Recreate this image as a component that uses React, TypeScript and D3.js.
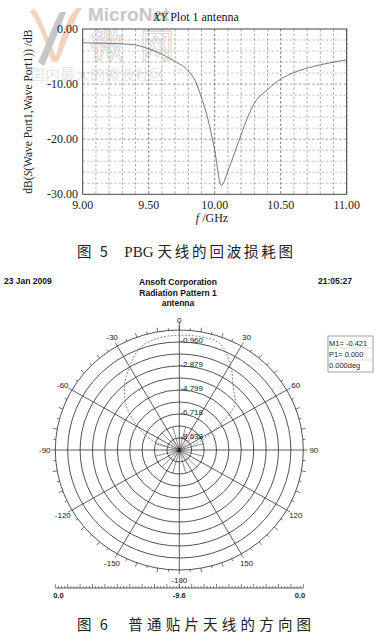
import React from "react";
import * as d3 from "d3";

// ---------- Figure 5 : S11 ----------
const freqs = [9.0, 9.1, 9.2, 9.3, 9.4, 9.5, 9.6, 9.7, 9.8, 9.85, 9.9, 9.95, 10.0, 10.05, 10.1, 10.15, 10.2, 10.25, 10.3, 10.4, 10.5, 10.6, 10.7, 10.8, 10.9, 11.0];
const s11 = [-2.5, -2.55, -2.6, -2.7, -2.9, -3.6, -4.6, -5.9, -7.6, -9.3, -12.5, -16.5, -22.0, -28.4, -25.8, -22.5, -19.2, -16.0, -13.5, -11.0, -9.1, -7.9, -7.1, -6.5, -6.0, -5.6];
const xTickVals = [9.0, 9.5, 10.0, 10.5, 11.0];
const xTickLabels = ["9.00", "9.50", "10.00", "10.50", "11.00"];
const yTickVals = [0, -10, -20, -30];
const yTickLabels = ["0.00", "-10.00", "-20.00", "-30.00"];

// ---------- Figure 6 : radiation pattern ----------
const patAngles = [-90, -80, -70, -60, -50, -40, -30, -20, -10, 0, 10, 20, 30, 40, 50, 60, 70, 80, 90];
const patDb = [-12, -10.5, -7.4, -5.9, -4.3, -3.0, -1.9, -0.85, -0.5, -0.42, -0.4, -0.5, -1.7, -3.1, -4.0, -6.6, -8.3, -10.5, -12];
const ringLabels = ["-0.960", "-2.879", "-4.799", "-6.718", "-8.638"];
const ringLabelVals = [-0.96, -2.879, -4.799, -6.718, -8.638];
const angleLabelVals = [0, 30, 60, 90, 120, 150, 180, -150, -120, -90, -60, -30];
const angleLabels = ["0", "30", "60", "90", "120", "150", "-180", "-150", "-120", "-90", "-60", "-30"];
const markerLines = ["M1= -0.421", "P1= 0.000", "0.000deg"];

const TIMES = "'Liberation Serif', 'DejaVu Serif', serif";
const ARIAL = "'Liberation Sans', Arial, sans-serif";
const CJK = "'Noto Sans CJK SC', sans-serif";

export default function App() {
  // top chart scales
  const x = d3.scaleLinear().domain([9, 11]).range([82.7, 346.7]);
  const y = d3.scaleLinear().domain([0, -30]).range([29, 194.3]);
  const vGrid = d3.range(9.1, 11, 0.1).map((v) => +v.toFixed(2));
  const hGrid = d3.range(-2, -30, -2);
  const line = d3
    .line<number>()
    .x((_, i) => x(freqs[i]))
    .y((d) => y(d))
    .curve(d3.curveMonotoneX);

  // polar
  const cx = 179.3, cy = 450, rx = 124, ry = 120;
  const r = d3.scaleLinear().domain([-9.6, 0]).range([0, 1]).clamp(true);
  const rings = d3.range(0.96, 9.61, 0.96).map((v) => +v.toFixed(2));
  const pol = (deg: number, rr: number) => {
    const a = (deg * Math.PI) / 180;
    return [cx + rr * rx * Math.sin(a), cy - rr * ry * Math.cos(a)];
  };
  const patLine = d3
    .line<number>()
    .x((d, i) => pol(patAngles[i], r(d))[0])
    .y((d, i) => pol(patAngles[i], r(d))[1])
    .curve(d3.curveCatmullRom);
  const spokes = d3.range(0, 360, 30);
  const innerSpokes = d3.range(0, 360, 15).filter((a) => a % 30 !== 0);
  const ticks5 = d3.range(0, 360, 5);

  // bottom scale
  const bs = d3.scaleLinear().domain([0, -9.6]).range([0, 124]);
  const bTicks = d3.range(0, 9.6001, 0.24).map((v) => -v);
  const bY = 588;

  return (
    <svg width={382} height={640} style={{ display: "block", position: "absolute", left: 0, top: 0 }}>
      <rect width={382} height={640} fill="#fff" />

      {/* watermark */}
      <g opacity={0.55}>
        <path d="M34,8 C44,22 48,40 56,56 C60,40 66,20 76,8 L82,8 C72,24 66,44 58,62 L52,62 C46,44 40,26 30,12 Z" fill="#e8b08a" />
        <path d="M38,62 C46,46 52,26 60,12 L66,12 C60,28 52,48 44,66 Z" fill="#9a9a9a" />
        <text x={88} y={21} fontFamily={ARIAL} fontWeight={700} fontSize={19} fill="#9a9a9a">MicroNet</text>
        <text x={90} y={58} fontFamily={CJK} fontSize={34} fill="none" stroke="#a8a8a8" strokeWidth={0.8}>微</text>
        <text x={140} y={58} fontFamily={CJK} fontSize={34} fill="none" stroke="#a8a8a8" strokeWidth={0.8}>网</text>
        <text x={30} y={80} fontFamily={CJK} fontSize={15} fill="#d0d0d0">国内最大的微波社区</text>
      </g>

      {/* ===== Figure 5 ===== */}
      <text x={196} y={21} textAnchor="middle" fontFamily={TIMES} fontSize={12} fill="#111">
        <tspan fontStyle="italic">XY</tspan> Plot 1 antenna
      </text>
      {vGrid.map((v) => (
        <line key={"vg" + v} x1={x(v)} x2={x(v)} y1={y(0)} y2={y(-30)} stroke={Math.abs((v * 10) % 5) < 0.01 ? "#555" : "#999"} strokeWidth={0.8} strokeDasharray="2.5,2" />
      ))}
      {hGrid.map((v) => (
        <line key={"hg" + v} x1={x(9)} x2={x(11)} y1={y(v)} y2={y(v)} stroke={v % 10 === 0 ? "#777" : "#aaa"} strokeWidth={0.7} strokeDasharray="2.5,2" />
      ))}
      <rect x={x(9)} y={y(0)} width={x(11) - x(9)} height={y(-30) - y(0)} fill="none" stroke="#444" strokeWidth={1} />
      <path d={line(s11) || ""} fill="none" stroke="#555" strokeWidth={0.8} />
      {xTickVals.map((v, i) => (
        <text key={"xt" + i} x={x(v)} y={209} textAnchor="middle" fontFamily={TIMES} fontSize={12} fill="#222">{xTickLabels[i]}</text>
      ))}
      {yTickVals.map((v, i) => (
        <text key={"yt" + i} x={78} y={y(v) + 4} textAnchor="end" fontFamily={TIMES} fontSize={12} fill="#222">{yTickLabels[i]}</text>
      ))}
      <text x={212} y={222} textAnchor="middle" fontFamily={TIMES} fontSize={12} fill="#222">
        <tspan fontStyle="italic">f</tspan> /GHz
      </text>
      <text transform={`translate(32,${y(-15)}) rotate(-90)`} textAnchor="middle" fontFamily={TIMES} fontSize={11.5} fill="#222">
        dB(<tspan fontStyle="italic">S</tspan>(Wave Port1,Wave Port1)) /dB
      </text>
      <text x={77} y={257} fontFamily={CJK} fontSize={14.5} fill="#222" style={{ whiteSpace: "pre" }}>
        <tspan letterSpacing={2.5}>{"图 5"}</tspan>
        <tspan dx={14} fontFamily={TIMES} fontSize={15}>PBG</tspan>
        <tspan dx={4} letterSpacing={2.8}>{"天线的回波损耗图"}</tspan>
      </text>

      {/* ===== Figure 6 ===== */}
      <text x={4} y={284} fontFamily={ARIAL} fontWeight={700} fontSize={8.5} fill="#111">23 Jan 2009</text>
      <text x={318} y={284} fontFamily={ARIAL} fontWeight={700} fontSize={8.5} fill="#111">21:05:27</text>
      <text x={178} y={285} textAnchor="middle" fontFamily={ARIAL} fontWeight={700} fontSize={8.5} fill="#111">Ansoft Corporation</text>
      <text x={178} y={295.5} textAnchor="middle" fontFamily={ARIAL} fontWeight={700} fontSize={8.5} fill="#111">Radiation Pattern 1</text>
      <text x={178} y={306} textAnchor="middle" fontFamily={ARIAL} fontWeight={700} fontSize={8.5} fill="#111">antenna</text>

      {/* rings */}
      {rings.map((d) => (
        <ellipse key={"ring" + d} cx={cx} cy={cy} rx={r(-9.6 + d) * rx} ry={r(-9.6 + d) * ry} fill="none" stroke="#333" strokeWidth={0.85} />
      ))}
      {spokes.map((a) => {
        const [x2, y2] = pol(a, 1);
        return <line key={"sp" + a} x1={cx} y1={cy} x2={x2} y2={y2} stroke="#333" strokeWidth={0.8} />;
      })}
      {innerSpokes.map((a) => {
        const [x2, y2] = pol(a, 0.2);
        return <line key={"isp" + a} x1={cx} y1={cy} x2={x2} y2={y2} stroke="#444" strokeWidth={0.6} />;
      })}
      {ticks5.map((a) => {
        const [x1, y1] = pol(a, 1);
        const [x2, y2] = pol(a, a % 10 === 0 ? 1.035 : 1.02);
        return <line key={"tk" + a} x1={x1} y1={y1} x2={x2} y2={y2} stroke="#333" strokeWidth={0.7} />;
      })}
      <circle cx={cx} cy={cy} r={2} fill="#111" />
      <line x1={cx} y1={cy - ry} x2={cx} y2={cy - ry - 8} stroke="#333" strokeWidth={0.8} />

      {angleLabelVals.map((a, i) => {
        const [lx, ly] = pol(a, 1.085);
        return (
          <text key={"al" + i} x={lx} y={ly + 3} textAnchor="middle" fontFamily={ARIAL} fontSize={8} fill="#222">{angleLabels[i]}</text>
        );
      })}
      {ringLabelVals.map((v, i) => (
        <text key={"rl" + i} x={cx + 1} y={cy - r(v) * ry + 1} fontFamily={ARIAL} fontSize={8} fill="#222">{ringLabels[i]}</text>
      ))}

      <path d={patLine(patDb) || ""} fill="none" stroke="#777" strokeWidth={0.9} strokeDasharray="2,1.5" />

      {/* marker box */}
      <rect x={328} y={336} width={45} height={36} fill="#fff" stroke="#777" strokeWidth={0.7} />
      <line x1={328} x2={373} y1={348} y2={348} stroke="#bbb" strokeWidth={0.5} />
      <line x1={328} x2={373} y1={360} y2={360} stroke="#bbb" strokeWidth={0.5} />
      {markerLines.map((t, i) => (
        <text key={"mk" + i} x={329} y={346 + i * 11} fontFamily={ARIAL} fontSize={7.5} fill="#222">{t}</text>
      ))}

      {/* bottom scale */}
      <line x1={cx - bs(-9.6)} x2={cx + bs(-9.6)} y1={bY} y2={bY} stroke="#333" strokeWidth={0.8} />
      {bTicks.map((v, i) => {
        const major = i % 4 === 0;
        return (
          <g key={"bt" + i}>
            <line x1={cx - bs(v)} x2={cx - bs(v)} y1={bY} y2={bY - (major ? 4 : 2)} stroke="#333" strokeWidth={0.6} />
            <line x1={cx + bs(v)} x2={cx + bs(v)} y1={bY} y2={bY - (major ? 4 : 2)} stroke="#333" strokeWidth={0.6} />
          </g>
        );
      })}
      <text x={cx - bs(-9.6) - 2} y={598} fontFamily={ARIAL} fontWeight={700} fontSize={7.5} fill="#222">0.0</text>
      <text x={cx} y={598} textAnchor="middle" fontFamily={ARIAL} fontWeight={700} fontSize={7.5} fill="#222">-9.6</text>
      <text x={cx + bs(-9.6) + 2} y={598} textAnchor="end" fontFamily={ARIAL} fontWeight={700} fontSize={7.5} fill="#222">0.0</text>

      <text x={77} y={630} fontFamily={CJK} fontSize={14.5} fill="#222" style={{ whiteSpace: "pre" }}>
        <tspan letterSpacing={2.5}>{"图 6"}</tspan>
        <tspan dx={18} letterSpacing={4.2}>{"普通贴片天线的方向图"}</tspan>
      </text>
    </svg>
  );
}
